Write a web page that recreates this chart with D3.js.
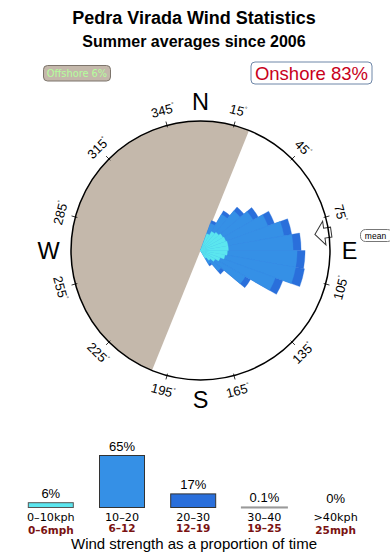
<!DOCTYPE html>
<html><head><meta charset="utf-8">
<script src="https://cdn.jsdelivr.net/npm/d3@7"></script>
<style>body{margin:0;background:#fff}svg{display:block;font-family:"Liberation Sans",Arial,sans-serif}</style>
</head><body><svg id="c" width="390" height="560"></svg>
<script>
// ---- data ----
const title = "Pedra Virada Wind Statistics";
const subtitle = "Summer averages since 2006";
const offshoreLabel = "Offshore 6%";
const onshoreLabel = "Onshore 83%";
const offshoreRange = [202, 382];          // bearing degrees of offshore sector
const meanDirection = 82;
const sectorStarts = [20,30,40,50,60,70,80,90,100,110,120,130,140]; // 10° sectors
const sectorWidth = 10;
const speed0_10  = [1.8,2.2,2.4,2.6,2.7,2.8,2.8,2.7,2.5,2.1,1.7,1.3,0.9];
const speed10_20 = [1.1,2.0,2.8,3.5,4.5,5.7,6.5,7.0,7.2,5.9,3.5,1.4,0.7];
const speed20_30 = [0.3,0.4,0.5,0.6,0.7,0.8,0.8,0.8,0.9,0.8,0.6,0.4,0.2];
const roseMax = 13;
const tickBearings = [15,45,75,105,135,165,195,225,255,285,315,345];
const cardinals = [["N",0],["E",90],["S",180],["W",270]];
const barKph = ["0–10kph","10–20","20–30","30–40",">40kph"];
const barMph = ["0–6mph","6–12","12–19","19–25","25mph"];
const barValues = [6,65,17,0.1,0];
const barLabels = ["6%","65%","17%","0.1%","0%"];
const footer = "Wind strength as a proportion of time";

const colors = ["#5be6ef","#3590e6","#2a6fdb"];
const barFill = ["#5be6ef","#3590e6","#2a6fdb","#ffffff","#ffffff"];
const barStroke = ["#555","#333","#333","#999","#999"];

const DJ = "'DejaVu Sans',Verdana,sans-serif";
const svg = d3.select("#c");
const cx = 200.5, cy = 250.5, R = 129.5;
const rad = d => d*Math.PI/180;

svg.append("text").attr("x",194).attr("y",24).attr("text-anchor","middle")
  .attr("font-size",18).attr("font-weight","bold").text(title);
svg.append("text").attr("x",194).attr("y",46.5).attr("text-anchor","middle")
  .attr("font-size",16).attr("font-weight","bold").text(subtitle);

// offshore label
svg.append("rect").attr("x",43.5).attr("y",65.5).attr("width",67).attr("height",15.5).attr("rx",4)
  .attr("fill","#c4b8ab").attr("stroke","#7d756c");
svg.append("text").attr("x",77).attr("y",77.3).attr("text-anchor","middle").attr("font-family",DJ)
  .attr("font-size",9.8).attr("fill","#b4ff9c").text(offshoreLabel);
// onshore label
svg.append("rect").attr("x",251).attr("y",62).attr("width",121).attr("height",22).attr("rx",4)
  .attr("fill","#fff").attr("stroke","#6f87a8");
svg.append("text").attr("x",311.5).attr("y",80).attr("text-anchor","middle")
  .attr("font-size",18.5).attr("fill","#c8001a").text(onshoreLabel);

const g = svg.append("g").attr("transform",`translate(${cx},${cy})`);
// offshore wedge
g.append("path").attr("d", d3.arc()({innerRadius:0,outerRadius:R,startAngle:rad(offshoreRange[0]),endAngle:rad(offshoreRange[1])}))
  .attr("fill","#c4b8ab");

// rose (stacked)
const r = d3.scaleLinear().domain([0,roseMax]).range([0,R]);
const arc = d3.arc();
const series = [speed0_10, speed10_20, speed20_30];
for (let k = series.length-1; k >= 0; k--) {
  sectorStarts.forEach((s,i) => {
    let cum = 0;
    for (let j=0;j<=k;j++) cum += series[j][i];
    g.append("path").attr("d", arc({innerRadius:0,outerRadius:r(cum),startAngle:rad(s),endAngle:rad(s+sectorWidth)}))
      .attr("fill",colors[k]).attr("stroke",colors[k]).attr("stroke-width",0.3);
  });
}

// mean arrow
const ma = g.append("g").attr("transform",`rotate(${meanDirection-90})`);
ma.append("path").attr("d",`M115.5,0 L125,-12 L125,-5 L132,-5 L132,5 L125,5 L125,12 Z`)
  .attr("fill","#fff").attr("stroke","#333").attr("stroke-width",1);

// compass circle
g.append("circle").attr("r",R).attr("fill","none").attr("stroke","#000").attr("stroke-width",1.5);
tickBearings.forEach(b => {
  const a = rad(b);
  g.append("line").attr("x1",(R-2)*Math.sin(a)).attr("y1",-(R-2)*Math.cos(a))
    .attr("x2",(R+4)*Math.sin(a)).attr("y2",-(R+4)*Math.cos(a)).attr("stroke","#000").attr("stroke-width",0.8);
  const lr = 145;
  const x = lr*Math.sin(a), y = -lr*Math.cos(a);
  const rot = (b>90 && b<270) ? b-180 : (b>=270 ? b-360 : b);
  const t = g.append("text").attr("transform",`translate(${x},${y}) rotate(${rot})`)
    .attr("text-anchor","middle").attr("dy","0.35em").attr("font-size",13);
  t.append("tspan").text(b);
  t.append("tspan").attr("font-size",6).attr("dy",-6).text("°");
});
cardinals.forEach(([l,b]) => {
  const a = rad(b), cr = l==="W"?152:149;
  g.append("text").attr("x",cr*Math.sin(a)).attr("y",-cr*Math.cos(a)).attr("dy","0.36em")
    .attr("text-anchor","middle").attr("font-size",23.5).text(l);
});

svg.append("rect").attr("x",360.5).attr("y",229.5).attr("width",32).attr("height",12).attr("rx",5)
  .attr("fill","#fff").attr("stroke","#777");
svg.append("text").attr("x",375.5).attr("y",238.5).attr("text-anchor","middle").attr("font-size",8.5).text("mean");

// bar chart
const x = d3.scaleBand().domain(barKph).range([15.2,371.2]).paddingInner(0.368).paddingOuter(0.184);
const y = d3.scaleLinear().domain([0,65]).range([507.5,455.5]);
const bars = svg.append("g");
barKph.forEach((c,i) => {
  const h = Math.max(0, y(0)-y(barValues[i]));
  bars.append("rect").attr("x",x(c)).attr("y",y(barValues[i])).attr("width",x.bandwidth()).attr("height",h)
    .attr("fill",barFill[i]).attr("stroke",barStroke[i]).attr("stroke-width", i>=3?2:1);
  const mx = x(c)+x.bandwidth()/2;
  bars.append("text").attr("x",mx).attr("y",y(barValues[i])-5).attr("text-anchor","middle")
    .attr("font-size",13).text(barLabels[i]);
  bars.append("text").attr("x",mx).attr("y",c.includes("kph")?521.3:520.8).attr("text-anchor","middle")
    .attr("font-family",DJ).attr("font-size",11.2).text(c);
  bars.append("text").attr("x",mx).attr("y",c.includes("kph")?534:532.3).attr("text-anchor","middle")
    .attr("font-family",DJ).attr("font-size",10.5).attr("font-weight","bold").attr("fill","#7a1212").text(barMph[i]);
});
svg.append("text").attr("x",194).attr("y",548.5).attr("text-anchor","middle")
  .attr("font-size",15).text(footer);
</script></body></html>
